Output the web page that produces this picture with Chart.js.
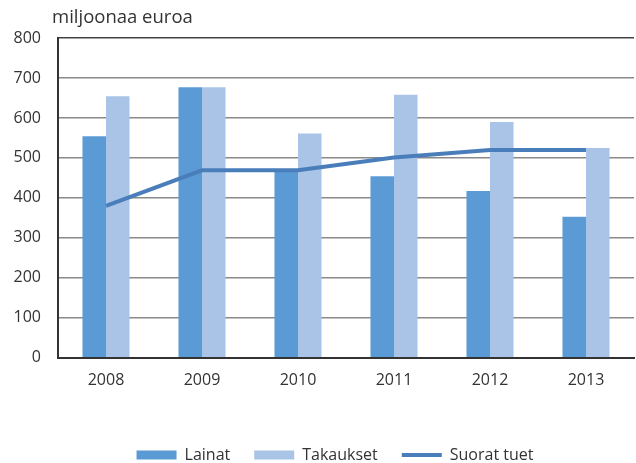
<!DOCTYPE html>
<html>
<head>
<meta charset="utf-8">
<script src="https://cdn.jsdelivr.net/npm/chart.js@4/dist/chart.umd.min.js"></script>
<style>
  html, body { margin: 0; padding: 0; background: #fff; }
  #wrap { width: 636px; height: 463px; }
</style>
</head>
<body>
<div id="wrap"><canvas id="chart"></canvas></div>
<script>
const years = ['2008', '2009', '2010', '2011', '2012', '2013'];
const lainat = [554, 677, 470, 454, 417, 353];
const takaukset = [654, 677, 561, 658, 590, 525];
const suoratTuet = [380, 469, 469, 501, 520, 520];
const yTicks = [0, 100, 200, 300, 400, 500, 600, 700, 800];
const unitLabel = 'miljoonaa euroa';

const FONT = '"Open Sans", sans-serif';

// draws the unit text above the y axis
const unitText = {
  id: 'unitText',
  afterDraw(chart) {
    const {ctx, chartArea} = chart;
    ctx.save();
    ctx.font = '18.5px ' + FONT;
    ctx.fillStyle = '#333';
    ctx.textBaseline = 'middle';
    ctx.textAlign = 'left';
    ctx.fillText(unitLabel, chartArea.left - 6, chartArea.top - 20);
    ctx.restore();
  }
};

// legend sits a bit lower and right of centre in the original
const legendShift = {
  id: 'legendShift',
  beforeInit(chart) {
    const fit = chart.legend.fit;
    chart.legend.fit = function () {
      fit.call(this);
      this.height -= 10;
    };
  },
  afterLayout(chart) {
    chart.legend.left += 18;
    chart.legend.right += 18;
  }
};

function initChart(canvas) {
  return new Chart(canvas, {
    type: 'bar',
    data: {
      labels: years,
      datasets: [
        {
          type: 'line',
          label: 'Suorat tuet',
          data: suoratTuet,
          borderColor: '#4A7EBB',
          backgroundColor: '#4A7EBB',
          borderWidth: 4,
          pointRadius: 0,
          tension: 0,
          order: 0
        },
        {
          label: 'Lainat',
          data: lainat,
          backgroundColor: '#5B9BD5',
          barPercentage: 1,
          categoryPercentage: 0.49,
          order: 1
        },
        {
          label: 'Takaukset',
          data: takaukset,
          backgroundColor: '#A9C4E6',
          barPercentage: 1,
          categoryPercentage: 0.49,
          order: 1
        }
      ]
    },
    options: {
      responsive: true,
      maintainAspectRatio: false,
      animation: false,
      layout: { padding: { top: 38, right: 2, left: 0, bottom: 0 } },
      plugins: {
        tooltip: { enabled: false },
        legend: {
          position: 'bottom',
          labels: {
            font: { family: FONT, size: 16 },
            color: '#333',
            usePointStyle: true,
            pointStyleWidth: 40,
            boxHeight: 9,
            padding: 24,
            sort: (a, b) => {
              const rank = { 'Lainat': 0, 'Takaukset': 1, 'Suorat tuet': 2 };
              return rank[a.text] - rank[b.text];
            },
            generateLabels: (chart) => {
              const items = Chart.defaults.plugins.legend.labels.generateLabels(chart);
              items.forEach((item) => {
                const ds = chart.data.datasets[item.datasetIndex];
                if (ds.type === 'line') {
                  item.pointStyle = 'line';
                  item.lineWidth = 4;
                  item.strokeStyle = ds.borderColor;
                } else {
                  item.pointStyle = 'rect';
                  item.lineWidth = 0;
                }
              });
              return items;
            }
          }
        }
      },
      scales: {
        x: {
          grid: { display: false, drawTicks: false },
          border: { color: '#333', width: 2 },
          ticks: { font: { family: FONT, size: 16 }, color: '#333', padding: 13 },
          afterFit: (scale) => { scale.height += 20; }
        },
        y: {
          min: 0,
          max: 800,
          afterBuildTicks: (scale) => { scale.ticks = yTicks.map((v) => ({ value: v })); },
          grid: {
            drawTicks: false,
            color: (c) => (c.tick && c.tick.value === 800 ? '#444' : '#8a8a8a'),
            lineWidth: 1.5
          },
          border: { color: '#333', width: 2 },
          ticks: { font: { family: FONT, size: 16 }, color: '#333', padding: 17 },
          afterFit: (scale) => { scale.width = 58; }
        }
      }
    },
    plugins: [unitText, legendShift]
  });
}

document.addEventListener('DOMContentLoaded', () => initChart(document.querySelector('#chart')));
</script>
</body>
</html>
